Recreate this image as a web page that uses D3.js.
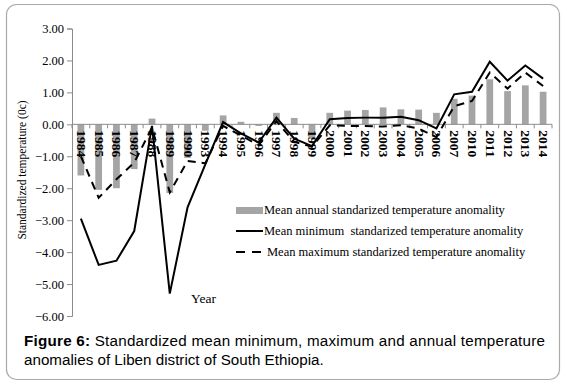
<!DOCTYPE html>
<html>
<head>
<meta charset="utf-8">
<script src="https://cdn.jsdelivr.net/npm/d3@7"></script>
<style>
  body { margin: 0; background: #fff; }
  svg { display: block; }
</style>
</head>
<body>
<svg id="chart" width="567" height="384"></svg>
<script>
const years = ["1984", "1985", "1986", "1987", "1988", "1989", "1990", "1993", "1994", "1995",
  "1996", "1997", "1998", "1999", "2000", "2001", "2002", "2003", "2004", "2005", "2006",
  "2007", "2010", "2011", "2012", "2013", "2014"];

// mean annual (bars)
const annual = [-1.6, -2.05, -2.0, -1.4, 0.18, -2.15, -1.05, -0.2, 0.28, 0.08,
  -0.05, 0.36, 0.2, -0.45, 0.36, 0.43, 0.45, 0.53, 0.47, 0.46, 0.36,
  0.8, 0.9, 1.41, 1.04, 1.22, 1.02];

// mean minimum (solid)
const minimum = [-2.95, -4.4, -4.27, -3.34, -0.05, -5.3, -2.6, -1.25, 0.07, -0.28,
  -0.57, 0.21, -0.45, -0.68, 0.16, 0.2, 0.21, 0.21, 0.24, 0.13, -0.13,
  0.94, 1.02, 1.96, 1.37, 1.84, 1.43];

// mean maximum (dashed)
const maximum = [-1.0, -2.3, -1.72, -1.2, -0.1, -2.13, -1.15, -1.22, -0.05, -0.35,
  -0.65, 0.1, -0.55, -0.7, -0.03, -0.05, -0.05, -0.07, -0.03, -0.13, -0.4,
  0.57, 0.73, 1.62, 1.12, 1.62, 1.2];

const yTicks = [3, 2, 1, 0, -1, -2, -3, -4, -5, -6];

const legendLabels = [
  "Mean annual standarized temperature anomality",
  "Mean minimum  standarized temperature anomality",
  "Mean maximum standarized temperature anomality",
];

const serif = "'Liberation Serif', 'Times New Roman', serif";

const svg = d3.select("#chart");

// outer frame
svg
  .append("rect")
  .attr("x", 6.5)
  .attr("y", 4.5)
  .attr("width", 553)
  .attr("height", 375)
  .attr("rx", 10)
  .attr("fill", "#fff")
  .attr("stroke", "#a9a9a9")
  .attr("stroke-width", 1.2);

const plot = { left: 72, right: 552, top: 28.5, bottom: 316 };

const x = d3
  .scaleBand()
  .domain(years)
  .range([plot.left, plot.right])
  .paddingInner(0.62)
  .paddingOuter(0.31);

const y = d3.scaleLinear().domain([-6, 3]).range([plot.bottom, plot.top]);

const cx = (d) => x(d) + x.bandwidth() / 2;

// y axis
const yAxis = d3
  .axisLeft(y)
  .tickValues(yTicks)
  .tickSize(5)
  .tickPadding(3)
  .tickFormat(d3.format(".2f"));

const gy = svg
  .append("g")
  .attr("transform", `translate(${plot.left},0)`)
  .call(yAxis);
gy.select(".domain").attr("stroke", "#8c8c8c");
gy.selectAll(".tick line").attr("stroke", "#8c8c8c");
gy.selectAll(".tick text")
  .attr("fill", "#000")
  .style("font-family", serif)
  .style("font-size", "12.5px");

// bars
svg
  .append("g")
  .selectAll("rect")
  .data(years)
  .enter()
  .append("rect")
  .attr("x", (d) => x(d))
  .attr("width", x.bandwidth())
  .attr("y", (d, i) => y(Math.max(0, annual[i])))
  .attr("height", (d, i) => Math.abs(y(annual[i]) - y(0)))
  .attr("fill", "#a5a5a5");

// x axis on zero line with ticks between categories
const gx = svg.append("g").attr("transform", `translate(0,${y(0)})`);
gx.append("line")
  .attr("x1", plot.left)
  .attr("x2", plot.right)
  .attr("stroke", "#8c8c8c");
const step = x.step();
gx.selectAll(".sep")
  .data(d3.range(years.length + 1))
  .enter()
  .append("line")
  .attr("x1", (i) => plot.left + i * step)
  .attr("x2", (i) => plot.left + i * step)
  .attr("y1", 0)
  .attr("y2", 4)
  .attr("stroke", "#8c8c8c");

gx.selectAll(".lbl")
  .data(years)
  .enter()
  .append("text")
  .attr("transform", (d) => `translate(${cx(d)},6) rotate(90)`)
  .attr("dy", "0.35em")
  .attr("text-anchor", "start")
  .attr("textLength", 27)
  .attr("lengthAdjust", "spacingAndGlyphs")
  .style("font-family", serif)
  .style("font-weight", "bold")
  .style("font-size", "11.5px")
  .text((d) => d);

// lines
const line = (vals) =>
  d3
    .line()
    .x((d) => cx(d))
    .y((d, i) => y(vals[i]))(years);

svg
  .append("path")
  .attr("d", line(minimum))
  .attr("fill", "none")
  .attr("stroke", "#000")
  .attr("stroke-width", 2);

svg
  .append("path")
  .attr("d", line(maximum))
  .attr("fill", "none")
  .attr("stroke", "#000")
  .attr("stroke-width", 2)
  .attr("stroke-dasharray", "8,6");

// axis titles
svg
  .append("text")
  .attr("transform", "translate(26,170) rotate(-90)")
  .attr("text-anchor", "middle")
  .style("font-family", serif)
  .style("font-size", "11.5px")
  .text("Standardized temperature (0c)");

svg
  .append("text")
  .attr("x", 191)
  .attr("y", 303)
  .style("font-family", serif)
  .style("font-size", "13.5px")
  .text("Year");

// legend
const legend = svg.append("g").style("font-family", serif).style("font-size", "12.5px");

legend.append("rect").attr("x", 236).attr("y", 207).attr("width", 27).attr("height", 7).attr("fill", "#a5a5a5");
legend.append("line").attr("x1", 236).attr("x2", 263).attr("y1", 231).attr("y2", 231).attr("stroke", "#000").attr("stroke-width", 2);
legend
  .append("line")
  .attr("x1", 236)
  .attr("x2", 268)
  .attr("y1", 252)
  .attr("y2", 252)
  .attr("stroke", "#000")
  .attr("stroke-width", 2)
  .attr("stroke-dasharray", "9,7");

legend
  .selectAll(".lt")
  .data(legendLabels)
  .enter()
  .append("text")
  .attr("x", (d, i) => (i === 2 ? 267 : 264))
  .attr("y", (d, i) => 214 + i * 21)
  .attr("xml:space", "preserve")
  .style("white-space", "pre")
  .text((d) => d);

// caption
const cap = svg.append("g").style("font-family", "'Liberation Sans', Arial, sans-serif").style("font-size", "15.2px");
const line1 = cap.append("text").attr("x", 24).attr("y", 346).attr("textLength", 521).attr("lengthAdjust", "spacing");
line1.append("tspan").style("font-weight", "bold").text("Figure 6:");
line1.append("tspan").text(" Standardized mean minimum, maximum and annual temperature");
cap.append("text").attr("x", 24).attr("y", 365).text("anomalies of Liben district of South Ethiopia.");
</script>
</body>
</html>
